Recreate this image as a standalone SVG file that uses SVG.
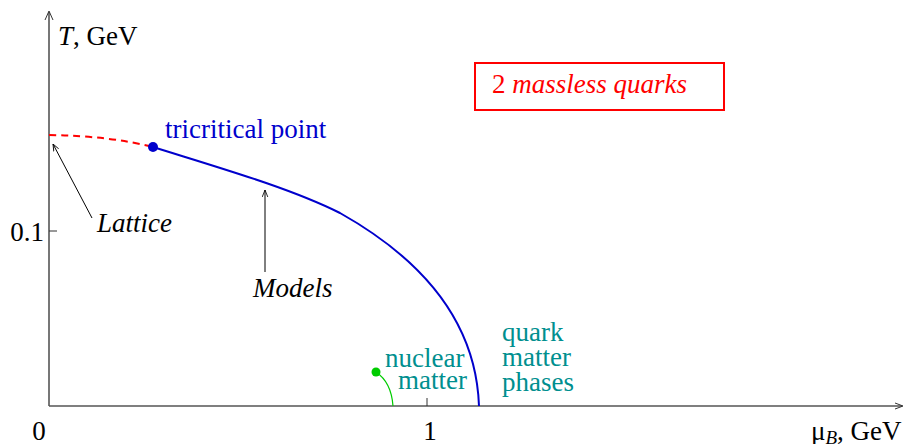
<svg xmlns="http://www.w3.org/2000/svg" width="904" height="444" viewBox="0 0 904 444">
<defs>
<style>
.ax{stroke:#777;stroke-width:2;fill:none}
.tk{stroke:#333;stroke-width:1;fill:none}
.txt{font-family:"Liberation Serif",serif;font-size:27px;fill:#000}
.it{font-style:italic}
.teal{fill:#008f8f}
.blue{fill:#0000cc}
.red{fill:#ff0000}
</style>
<marker id="ah" viewBox="0 0 10 10" refX="10" refY="5" markerWidth="7" markerHeight="7" orient="auto" markerUnits="userSpaceOnUse"><path d="M0,1 L10,5 L0,9" fill="none" stroke="#000" stroke-width="1.2"/></marker>
</defs>
<rect width="904" height="444" fill="#fff"/>
<g id="axes">
<line class="ax" x1="49" y1="406" x2="49" y2="12"/>
<path d="M45,20 L49,11 L53,20" fill="none" stroke="#333" stroke-width="1"/>
<line x1="49" y1="406" x2="902" y2="406" stroke="#555" stroke-width="1.5"/>
<path d="M895,403 L903,406 L895,409" fill="none" stroke="#333" stroke-width="1"/>
<line class="tk" x1="49" y1="231" x2="57" y2="231"/>
<line class="tk" x1="427" y1="398" x2="427" y2="406"/>
<text class="txt" x="58" y="45"><tspan class="it">T</tspan>, GeV</text>
<text class="txt" x="44" y="241" text-anchor="end">0.1</text>
<text class="txt" x="39" y="440" text-anchor="middle">0</text>
<text class="txt" x="430" y="440" text-anchor="middle">1</text>
<text class="txt" x="811" y="440">μ<tspan class="it" font-size="19" dy="4">B</tspan><tspan dy="-4">, GeV</tspan></text>
</g>
<g id="connectors">
<path d="M49,135 Q110,136 153,147" fill="none" stroke="#ff0000" stroke-width="2" stroke-dasharray="7,5"/>
<path d="M153,147 C220,168 290,188 340,213 C420,258 476,320 479,406" fill="none" stroke="#0000cc" stroke-width="2"/>
<path d="M376,372 C388,380 392,392 393,406" fill="none" stroke="#00cc00" stroke-width="1.2"/>
<line x1="92" y1="218" x2="53" y2="144" stroke="#000" stroke-width="1" marker-end="url(#ah)"/>
<line x1="265" y1="272" x2="265" y2="190" stroke="#000" stroke-width="1" marker-end="url(#ah)"/>
</g>
<g id="tricritical">
<circle cx="153" cy="147" r="5" fill="#0000cc"/>
<text class="txt blue" x="165" y="138">tricritical point</text>
</g>
<g id="nuclear">
<circle cx="376" cy="372" r="4.5" fill="#00cc00"/>
<text class="txt teal" x="385" y="367">nuclear</text>
<text class="txt teal" x="398" y="389">matter</text>
</g>
<g id="quark">
<text class="txt teal" x="502" y="341">quark</text>
<text class="txt teal" x="502" y="366">matter</text>
<text class="txt teal" x="502" y="391">phases</text>
</g>
<g id="lattice"><text class="txt it" x="97" y="232">Lattice</text></g>
<g id="models"><text class="txt it" x="253" y="297">Models</text></g>
<g id="legend">
<rect x="475" y="63" width="249" height="47" fill="none" stroke="#ff0000" stroke-width="2"/>
<text class="txt red" x="492" y="93">2 <tspan class="it">massless quarks</tspan></text>
</g>
</svg>
